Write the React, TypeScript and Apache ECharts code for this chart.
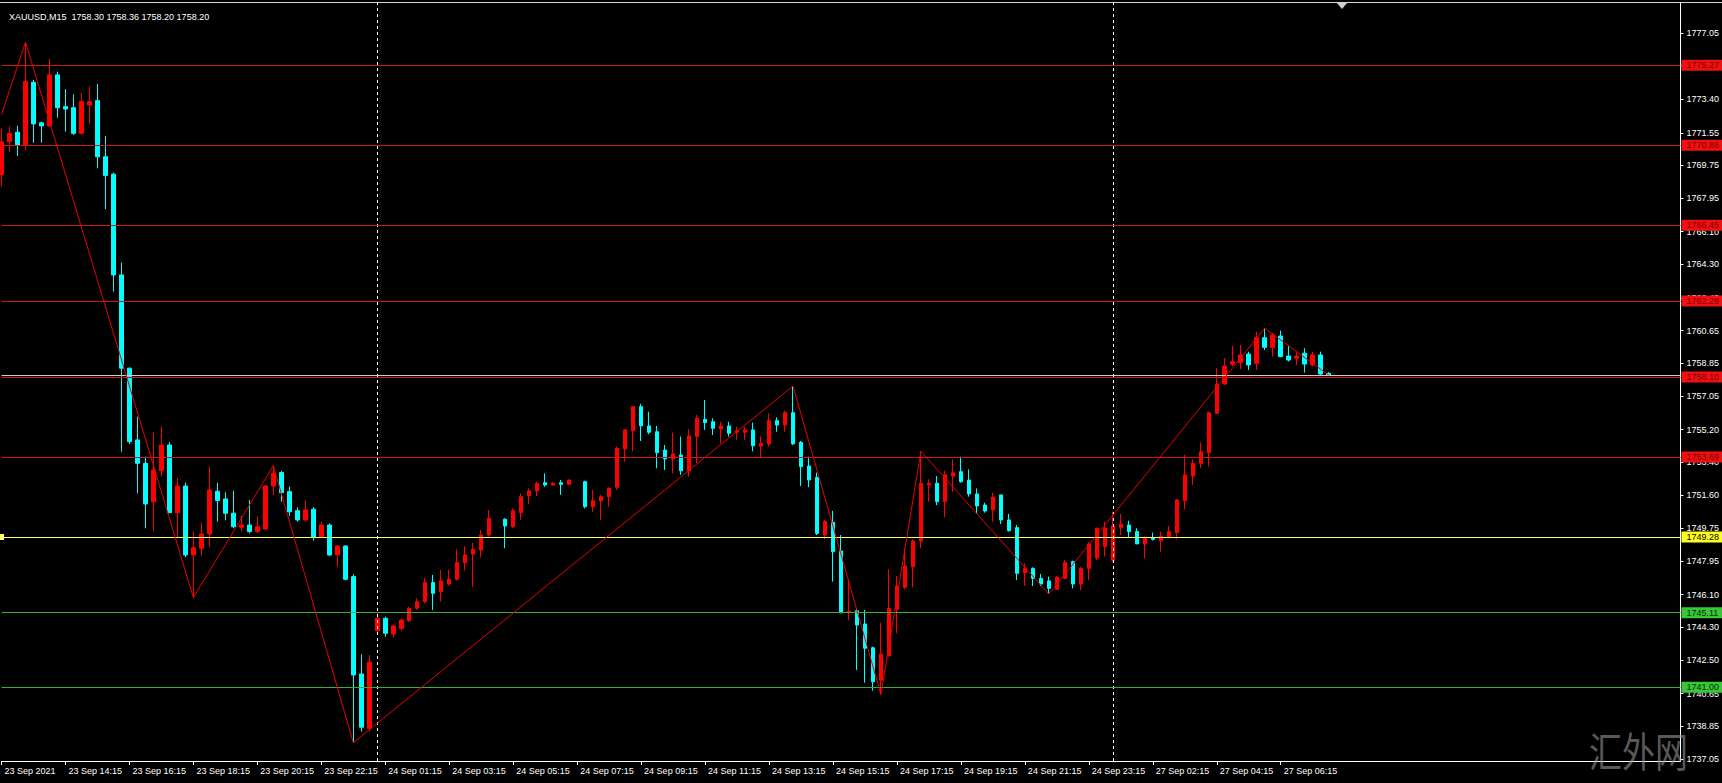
import { useEffect, useRef } from 'react';
import * as echarts from 'echarts';

const opens = [
  1769.25, 1771.06, 1771.58, 1770.88, 1774.33, 1772.10, 1771.93, 1774.74, 1772.99, 1772.93,
  1771.52, 1773.08, 1773.32, 1770.23, 1769.27, 1763.72, 1758.58, 1754.63, 1753.34, 1751.23,
  1752.93, 1754.35, 1750.62, 1752.09, 1748.29, 1748.66, 1749.45, 1751.80, 1751.38, 1750.59,
  1749.82, 1749.94, 1749.58, 1749.72, 1752.09, 1752.83, 1751.78, 1750.73, 1750.22, 1750.81,
  1749.30, 1749.94, 1748.29, 1748.78, 1747.10, 1741.73, 1738.74, 1744.12, 1744.80, 1743.94,
  1744.25, 1744.67, 1745.35, 1745.72, 1746.77, 1746.27, 1746.69, 1746.95, 1747.87, 1748.34,
  1748.56, 1749.39, null, 1750.26, 1749.85, 1750.62, 1751.56, 1751.82, 1752.27, 1752.15,
  1752.27, 1752.18, null, 1752.33, 1750.95, 1751.28, 1751.50, 1752.02, 1754.13, 1755.14,
  1756.46, 1755.40, 1755.08, 1754.07, 1753.58, 1753.80, 1752.93, 1754.81, 1755.76, 1755.63,
  1755.23, 1755.40, 1755.05, 1755.05, 1755.18, 1754.29, 1754.41, 1755.69, 1755.45, 1756.13,
  1754.50, 1753.19, 1752.57, 1749.39, 1750.09, 1748.51, 1745.13, 1745.22, 1744.49, 1743.18,
  1741.40, 1742.73, 1745.30, 1746.51, 1747.64, 1749.06, 1752.15, 1752.24, 1751.23, 1752.64,
  1752.88, 1752.42, 1751.65, 1751.04, 1750.77, 1751.60, 1750.22, 1749.80, 1747.31, 1747.55,
  1747.00, 1746.86, 1746.40, 1747.00, 1747.92, 1746.69, 1747.55, 1748.12, 1748.75, 1748.00,
  1749.80, 1749.94, 1749.58, 1748.90, 1749.26, 1749.08, 1749.30, 1749.52, 1751.28, 1752.64,
  1753.34, 1753.93, 1756.10, 1757.71, 1758.81, 1758.89, 1759.36, 1758.85, 1760.26, 1759.73,
  1760.35, 1759.25, 1759.13, 1759.40, 1758.76, 1759.31, 1758.30,
];
const highs = [
  1771.80, 1771.89, 1771.93, 1776.55, 1774.46, 1772.16, 1775.62, 1774.92, 1773.96, 1773.67,
  1773.73, 1774.09, 1774.24, 1771.37, 1769.35, 1764.40, 1758.62, 1755.91, 1753.71, 1755.05,
  1755.36, 1754.50, 1752.52, 1752.27, 1749.57, 1750.07, 1753.16, 1752.26, 1751.74, 1751.82,
  1750.44, 1751.32, 1750.40, 1752.15, 1753.21, 1752.93, 1752.06, 1750.92, 1751.28, 1750.92,
  1750.13, 1750.03, 1748.84, 1748.84, 1747.23, 1742.82, 1742.78, 1745.08, 1744.89, 1744.43,
  1744.80, 1745.44, 1745.90, 1747.01, 1747.19, 1747.46, 1747.46, 1748.60, 1748.78, 1748.97,
  1749.67, 1750.77, null, 1750.31, 1750.86, 1751.69, 1751.96, 1752.33, 1752.79, 1752.30,
  1752.42, 1752.45, null, 1752.38, 1751.87, 1751.60, 1752.02, 1754.26, 1755.22, 1756.50,
  1756.61, 1756.18, 1755.40, 1754.35, 1755.03, 1754.81, 1755.22, 1756.00, 1756.83, 1755.82,
  1755.63, 1755.63, 1755.36, 1755.36, 1755.58, 1754.81, 1756.10, 1755.87, 1756.24, 1757.60,
  1754.57, 1753.71, 1752.83, 1750.22, 1750.72, 1749.39, 1746.95, 1745.35, 1745.26, 1743.24,
  1744.56, 1747.50, 1747.13, 1748.66, 1749.15, 1754.00, 1752.46, 1752.64, 1752.93, 1753.56,
  1753.71, 1753.01, 1751.96, 1751.17, 1751.72, 1751.60, 1750.55, 1749.94, 1747.83, 1747.61,
  1747.24, 1747.10, 1747.13, 1748.01, 1747.98, 1747.64, 1749.00, 1749.80, 1750.13, 1750.68,
  1750.55, 1750.18, 1749.76, 1749.30, 1749.52, 1749.58, 1749.89, 1751.36, 1753.80, 1753.56,
  1754.48, 1756.18, 1758.58, 1759.13, 1759.81, 1759.86, 1759.49, 1760.59, 1760.78, 1760.54,
  1760.65, 1759.80, 1759.45, 1759.68, 1759.49, 1759.49, 1758.36,
];
const lows = [
  1768.60, 1770.51, 1770.27, 1770.60, 1771.00, 1771.00, 1771.89, 1772.38, 1771.61, 1771.43,
  1771.45, 1772.07, 1769.60, 1767.34, 1762.80, 1753.98, 1754.40, 1751.69, 1749.76, 1749.58,
  1752.60, 1750.59, 1749.30, 1748.16, 1745.94, 1748.23, 1748.75, 1750.13, 1750.20, 1749.76,
  1749.58, 1749.49, 1749.49, 1749.67, 1751.58, 1751.23, 1750.44, 1750.13, 1750.13, 1749.08,
  1749.26, 1748.23, 1747.65, 1746.90, 1737.95, 1738.56, 1738.56, 1743.88, 1743.79, 1743.76,
  1744.12, 1744.61, 1745.26, 1745.63, 1745.26, 1745.72, 1746.60, 1746.88, 1747.43, 1746.54,
  1748.16, 1749.30, null, 1748.66, 1749.76, 1750.22, 1751.10, 1751.54, 1752.05, 1752.10,
  1751.60, 1752.15, null, 1750.86, 1750.67, 1750.22, 1750.95, 1751.87, 1753.43, 1754.00,
  1754.57, 1754.94, 1753.07, 1752.97, 1752.79, 1752.70, 1752.60, 1753.34, 1755.18, 1754.90,
  1754.44, 1754.81, 1754.63, 1754.63, 1754.00, 1753.62, 1754.26, 1755.08, 1755.08, 1754.35,
  1752.09, 1752.02, 1749.39, 1749.16, 1746.82, 1745.08, 1744.71, 1741.95, 1741.25, 1740.81,
  1740.60, 1742.69, 1743.97, 1746.40, 1746.51, 1748.66, 1751.23, 1751.04, 1750.37, 1751.78,
  1752.27, 1751.50, 1750.55, 1750.62, 1750.12, 1750.00, 1749.58, 1746.91, 1746.58, 1746.58,
  1746.58, 1746.14, 1746.36, 1746.95, 1746.45, 1746.36, 1746.90, 1748.00, 1748.20, 1747.90,
  1749.39, 1749.26, 1748.90, 1748.10, 1749.08, 1748.47, 1749.20, 1749.15, 1750.81, 1752.15,
  1753.07, 1753.16, 1756.06, 1757.66, 1758.70, 1758.52, 1758.48, 1758.48, 1759.58, 1759.22,
  1759.18, 1758.94, 1758.76, 1758.34, 1758.67, 1758.20, 1758.20,
];
const closes = [
  1771.05, 1771.52, 1770.88, 1774.37, 1772.04, 1771.93, 1774.74, 1772.93, 1772.86, 1771.52,
  1773.27, 1773.27, 1770.23, 1769.19, 1763.72, 1758.58, 1754.53, 1753.34, 1751.10, 1752.97,
  1754.35, 1750.62, 1752.09, 1748.29, 1748.69, 1749.45, 1751.87, 1751.29, 1750.59, 1749.85,
  1749.94, 1749.58, 1749.85, 1752.09, 1752.79, 1751.72, 1750.67, 1750.22, 1750.77, 1749.26,
  1749.94, 1748.29, 1748.78, 1746.95, 1741.68, 1738.80, 1742.38, 1744.80, 1743.98, 1744.38,
  1744.71, 1745.35, 1745.72, 1746.77, 1746.18, 1746.86, 1746.95, 1747.87, 1748.29, 1748.60,
  1749.39, 1750.31, null, 1749.89, 1750.73, 1751.50, 1751.83, 1752.24, 1752.15, 1752.24,
  1752.18, 1752.42, null, 1750.95, 1751.28, 1751.50, 1751.96, 1754.17, 1755.18, 1756.46,
  1755.41, 1755.05, 1753.93, 1753.58, 1753.86, 1752.93, 1754.85, 1755.82, 1755.58, 1755.27,
  1755.40, 1755.00, 1755.14, 1755.18, 1754.31, 1754.44, 1755.69, 1755.45, 1756.13, 1754.41,
  1753.16, 1752.42, 1749.48, 1750.13, 1748.47, 1745.11, 1745.20, 1744.43, 1743.15, 1741.31,
  1742.83, 1745.35, 1746.58, 1747.68, 1749.06, 1752.24, 1752.24, 1751.23, 1752.70, 1752.82,
  1752.33, 1751.65, 1750.99, 1750.71, 1751.47, 1750.22, 1749.63, 1747.28, 1747.55, 1747.00,
  1746.69, 1746.45, 1747.06, 1747.87, 1746.69, 1747.55, 1748.90, 1749.76, 1749.76, 1749.89,
  1749.99, 1749.58, 1748.90, 1749.26, 1749.15, 1749.33, 1749.58, 1751.32, 1752.70, 1753.34,
  1753.98, 1756.13, 1757.71, 1758.70, 1758.94, 1759.31, 1758.76, 1760.26, 1759.73, 1760.41,
  1759.22, 1759.03, 1759.25, 1758.81, 1759.31, 1758.26, 1758.20,
];

const xTickLabels = [
  '23 Sep 2021', '23 Sep 14:15', '23 Sep 16:15', '23 Sep 18:15', '23 Sep 20:15', '23 Sep 22:15',
  '24 Sep 01:15', '24 Sep 03:15', '24 Sep 05:15', '24 Sep 07:15', '24 Sep 09:15', '24 Sep 11:15',
  '24 Sep 13:15', '24 Sep 15:15', '24 Sep 17:15', '24 Sep 19:15', '24 Sep 21:15', '24 Sep 23:15',
  '27 Sep 02:15', '27 Sep 04:15', '27 Sep 06:15',
];
const yTickValues = [
  1777.05, 1775.25, 1773.40, 1771.55, 1769.75, 1767.95, 1766.10, 1764.30, 1762.45, 1760.65,
  1758.85, 1757.05, 1755.20, 1753.40, 1751.60, 1749.75, 1747.95, 1746.10, 1744.30, 1742.50,
  1740.65, 1738.85, 1737.05,
];

const zigzagIndex = [0, 3, 24, 34, 44, 99, 110, 115, 131, 158, 166];
const zigzagPrice = [1772.55, 1776.55, 1745.94, 1753.21, 1737.95, 1757.60, 1740.60, 1754.00, 1746.14, 1760.78, 1758.20];

const redLevels = [1775.27, 1770.86, 1766.45, 1762.28, 1758.10, 1753.69];
const yellowLevels = [1749.28];
const greenLevels = [1745.11, 1741.00];
const bidPrice = 1758.20;
const daySeparatorIndex = [47, 139];

const headerText = 'XAUUSD,M15  1758.30 1758.36 1758.20 1758.20';
const watermark = '汇外网';

const SLOTS = 211;
const FONT = '"Liberation Sans", Arial, sans-serif';

function buildOption() {
  const categories = Array.from({ length: SLOTS }, (_, i) => String(i));
  const candleData = opens.map((o, i) =>
    o === null ? '-' : [o, closes[i], lows[i], highs[i]]
  );
  const zigzag = zigzagIndex.map((idx, k) => [idx, zigzagPrice[k]]);

  const levelLabel = (bg: string, fg: string) => ({
    show: true,
    position: 'end',
    distance: 1,
    formatter: (p: any) => Number(p.value).toFixed(2),
    color: fg,
    backgroundColor: bg,
    fontSize: 9,
    fontFamily: FONT,
    lineHeight: 10,
    padding: [1, 6, 0, 5],
  });

  const levelData = [
    ...redLevels.map((v) => ({
      yAxis: v,
      lineStyle: { color: '#c81818', width: 1, type: 'solid' },
      label: levelLabel('#f01010', '#7a0000'),
      symbol: 'none',
    })),
    ...yellowLevels.map((v) => ({
      yAxis: v,
      lineStyle: { color: '#ffff70', width: 1, type: 'solid' },
      label: levelLabel('#ffff20', '#000000'),
      symbol: 'rect',
      symbolSize: [6, 5],
    })),
    ...greenLevels.map((v) => ({
      yAxis: v,
      lineStyle: { color: '#38b038', width: 1, type: 'solid' },
      label: levelLabel('#36c836', '#062806'),
      symbol: 'none',
    })),
  ];

  return {
    animation: false,
    backgroundColor: '#000000',
    title: {
      text: headerText,
      left: 4,
      top: 7,
      textStyle: { color: '#ffffff', fontSize: 9, fontWeight: 'normal', fontFamily: FONT },
    },
    grid: { left: 1.5, right: 40.5, top: 3, bottom: 22, containLabel: false },
    xAxis: {
      type: 'category',
      data: categories,
      boundaryGap: false,
      axisLine: { show: true, lineStyle: { color: '#ffffff', width: 1 } },
      axisTick: {
        show: true,
        length: 4,
        interval: (i: number) => i % 8 === 0 && i / 8 < xTickLabels.length,
        lineStyle: { color: '#ffffff' },
      },
      axisLabel: {
        show: true,
        interval: (i: number) => i % 8 === 0 && i / 8 < xTickLabels.length,
        formatter: (_v: string, i: number) => (i % 8 === 0 ? xTickLabels[i / 8] ?? '' : ''),
        align: 'left',
        margin: 5,
        padding: [0, 0, 0, 3],
        color: '#ffffff',
        fontSize: 9,
        fontFamily: FONT,
      },
      splitLine: { show: false },
    },
    yAxis: {
      type: 'value',
      position: 'right',
      min: 1736.94,
      max: 1778.7,
      axisLine: { show: true, lineStyle: { color: '#ffffff', width: 1 } },
      axisTick: { show: true, length: 3, customValues: yTickValues, lineStyle: { color: '#ffffff' } },
      axisLabel: {
        show: true,
        customValues: yTickValues,
        formatter: (v: number) => v.toFixed(2),
        margin: 6,
        color: '#ffffff',
        fontSize: 9,
        fontFamily: FONT,
      },
      splitLine: { show: false },
    },
    graphic: [
      { type: 'line', shape: { x1: 0, y1: 2.5, x2: 1722, y2: 2.5 }, style: { stroke: '#d8d8d8', lineWidth: 1 }, silent: true },
      { type: 'polygon', shape: { points: [[1337, 3], [1347, 3], [1342, 9]] }, style: { fill: '#d0d0d0' }, silent: true },
      {
        type: 'text',
        x: 1589,
        y: 729,
        scaleY: 1.25,
        silent: true,
        z: 10,
        style: {
          text: watermark,
          fill: 'rgba(150,150,150,0.6)',
          font: '33px "Noto Sans CJK SC"',
          verticalAlign: 'top',
        },
      },
    ],
    series: [
      {
        name: 'separators',
        type: 'line',
        data: [],
        z: 1,
        markLine: {
          silent: true,
          symbol: 'none',
          label: { show: false },
          lineStyle: { color: '#ffffff', width: 1, type: [3, 3] },
          data: daySeparatorIndex.map((i) => ({ xAxis: categories[i] })),
        },
      },
      {
        name: 'XAUUSD',
        type: 'candlestick',
        data: candleData,
        barWidth: 4,
        clip: false,
        z: 2,
        itemStyle: {
          color: '#ff0000',
          color0: '#00ffff',
          borderColor: '#ff0000',
          borderColor0: '#00ffff',
          borderWidth: 1,
        },
      },
      {
        name: 'bid',
        type: 'line',
        data: [],
        z: 3,
        markLine: {
          silent: true,
          symbol: 'none',
          label: { show: false },
          lineStyle: { color: '#d8c8c8', width: 1, type: 'solid' },
          data: [{ yAxis: bidPrice }],
        },
      },
      {
        name: 'levels',
        type: 'line',
        data: [],
        z: 4,
        markLine: {
          silent: true,
          symbol: 'none',
          data: levelData,
        },
      },
      {
        name: 'ZigZag',
        type: 'line',
        data: zigzag,
        z: 5,
        showSymbol: false,
        symbol: 'none',
        lineStyle: { color: '#e80000', width: 1 },
      },
    ],
  };
}

export default function App() {
  const ref = useRef<HTMLDivElement>(null);
  useEffect(() => {
    document.body.style.margin = '0';
    document.body.style.background = '#000';
    const chart = echarts.init(ref.current!, null, { renderer: 'svg' });
    chart.setOption(buildOption() as any);
    return () => chart.dispose();
  }, []);
  return (
    <div
      ref={ref}
      style={{ position: 'absolute', left: 0, top: 0, width: 1722, height: 783, background: '#000' }}
    />
  );
}
